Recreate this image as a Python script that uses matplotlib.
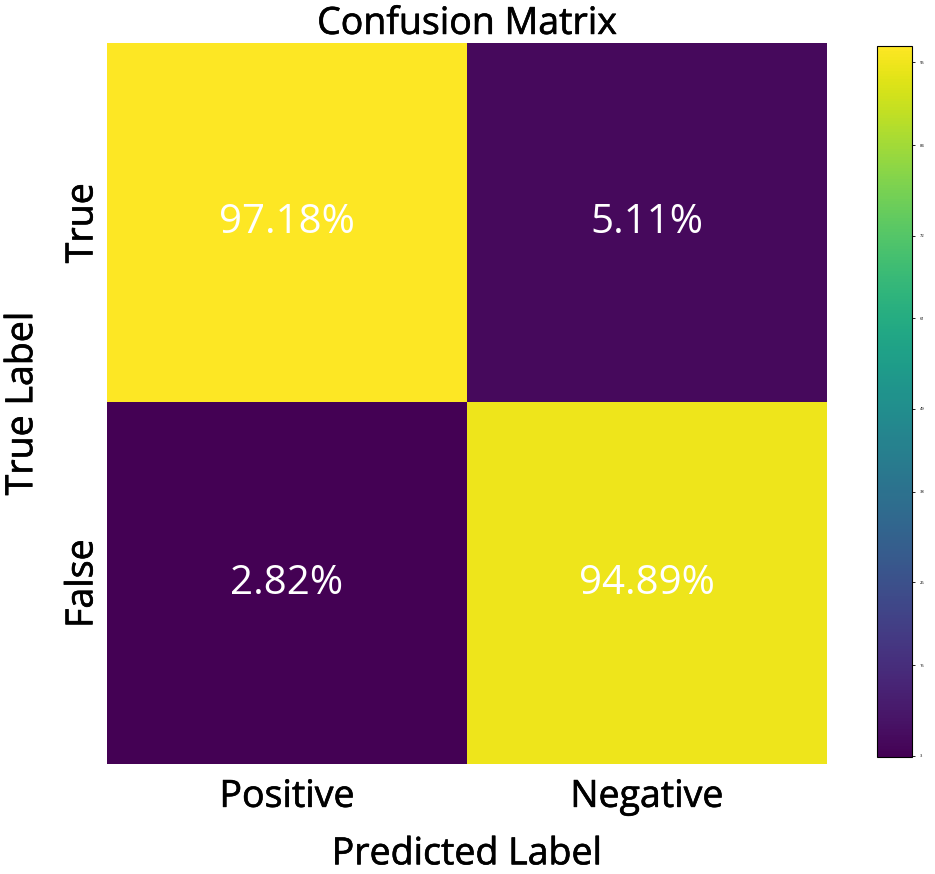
import matplotlib
matplotlib.use("Agg")
import matplotlib.pyplot as plt
import matplotlib.patheffects as pe
import numpy as np

plt.rcParams["font.family"] = ["Open Sans", "DejaVu Sans"]

# ── data ────────────────────────────────────────────────────────────
row_labels = ["True", "False"]
col_labels = ["Positive", "Negative"]
cm_values = np.array([[97.18, 5.11],
                      [2.82, 94.89]])
cbar_ticks = [3, 15, 26, 38, 49, 61, 72, 84, 95]

# regular weight thickened a little -> "medium" look of the reference
MEDIUM = [pe.withStroke(linewidth=0.45, foreground="black")]
FS = 27

# ── figure ──────────────────────────────────────────────────────────
fig = plt.figure(figsize=(9.35, 8.74), dpi=100)
ax = fig.add_axes([0.1144, 0.1259, 0.770, 0.825])
cax = fig.add_axes([0.938, 0.134, 0.0374, 0.8135])

im = ax.imshow(cm_values, cmap="viridis", aspect="auto",
               vmin=cm_values.min(), vmax=cm_values.max())

for i in range(cm_values.shape[0]):
    for j in range(cm_values.shape[1]):
        ax.text(j, i, f"{cm_values[i, j]:.2f}%",
                ha="center", va="center", color="white", fontsize=29)

ax.set_xticks(range(len(col_labels)))
ax.set_xticklabels(col_labels, fontsize=FS)
ax.set_yticks(range(len(row_labels)))
ax.set_yticklabels(row_labels, fontsize=FS, rotation=90, va="center")
ax.tick_params(axis="x", length=0, pad=10)
ax.tick_params(axis="y", length=0, pad=4)
for s in ax.spines.values():
    s.set_visible(False)
for t in ax.get_xticklabels() + ax.get_yticklabels():
    t.set_path_effects(MEDIUM)

xl = ax.set_xlabel("Predicted Label", fontsize=FS, labelpad=14)
yl = ax.set_ylabel("True Label", fontsize=FS, labelpad=16)
tt = ax.set_title("Confusion Matrix", fontsize=FS, pad=2)
for t in (xl, yl, tt):
    t.set_path_effects(MEDIUM)

cb = fig.colorbar(im, cax=cax)
cb.set_ticks(cbar_ticks)
cb.ax.tick_params(labelsize=3, length=2, width=0.6)
cb.outline.set_linewidth(0.8)

fig.savefig("out.png", dpi=100)
